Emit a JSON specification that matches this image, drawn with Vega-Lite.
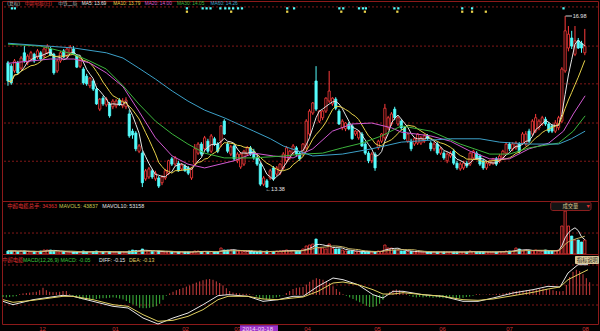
{
"$schema":"https://vega.github.io/schema/vega-lite/v6.json",
"background":"#000000",
"padding":0,
"spacing":0,
"bounds":"flush",
"config":{"view":{"stroke":"#8c1a1a","strokeWidth":1},"text":{"font":"Liberation Sans, Noto Sans CJK SC"}},
"datasets":{
"k":[
{"i":0,"o":16.00,"h":16.04,"l":15.52,"c":15.62,"v":34400,"m":-0.05},
{"i":1,"o":15.93,"h":15.98,"l":15.54,"c":15.58,"v":34400,"m":-0.06},
{"i":2,"o":15.83,"h":16.08,"l":15.79,"c":16.04,"v":34400,"m":-0.05},
{"i":3,"o":16.00,"h":16.04,"l":15.75,"c":15.79,"v":28600,"m":-0.04},
{"i":4,"o":15.89,"h":16.14,"l":15.85,"c":16.10,"v":34400,"m":-0.03},
{"i":5,"o":16.21,"h":16.35,"l":16.00,"c":16.04,"v":34400,"m":0.02},
{"i":6,"o":16.00,"h":16.18,"l":15.95,"c":16.14,"v":28600,"m":0.04},
{"i":7,"o":16.08,"h":16.25,"l":16.04,"c":16.21,"v":22900,"m":0.05},
{"i":8,"o":16.18,"h":16.21,"l":16.00,"c":16.04,"v":28600,"m":0.06},
{"i":9,"o":16.12,"h":16.29,"l":16.08,"c":16.25,"v":22900,"m":0.07},
{"i":10,"o":16.21,"h":16.25,"l":16.04,"c":16.08,"v":34400,"m":0.08},
{"i":11,"o":16.14,"h":16.33,"l":16.10,"c":16.29,"v":45800,"m":0.12},
{"i":12,"o":16.21,"h":16.39,"l":16.18,"c":16.35,"v":45800,"m":0.18},
{"i":13,"o":16.29,"h":16.33,"l":16.14,"c":16.16,"v":45800,"m":0.12},
{"i":14,"o":16.18,"h":16.21,"l":15.75,"c":15.79,"v":34400,"m":0.08},
{"i":15,"o":15.83,"h":16.08,"l":15.79,"c":16.04,"v":22900,"m":0.07},
{"i":16,"o":16.04,"h":16.25,"l":16.00,"c":16.21,"v":22900,"m":0.07},
{"i":17,"o":16.25,"h":16.29,"l":16.10,"c":16.12,"v":28600,"m":0.08},
{"i":18,"o":16.14,"h":16.33,"l":16.10,"c":16.29,"v":22900,"m":0.1},
{"i":19,"o":16.21,"h":16.37,"l":16.18,"c":16.33,"v":22900,"m":0.1},
{"i":20,"o":16.29,"h":16.35,"l":16.16,"c":16.18,"v":22900,"m":0.02},
{"i":21,"o":16.14,"h":16.18,"l":15.89,"c":15.91,"v":22900,"m":-0.03},
{"i":22,"o":15.93,"h":16.10,"l":15.89,"c":16.08,"v":22900,"m":-0.06},
{"i":23,"o":15.87,"h":15.91,"l":15.54,"c":15.58,"v":34400,"m":-0.09},
{"i":24,"o":15.72,"h":15.77,"l":15.52,"c":15.56,"v":22900,"m":-0.11},
{"i":25,"o":15.52,"h":15.70,"l":15.47,"c":15.68,"v":22900,"m":-0.12},
{"i":26,"o":15.62,"h":15.66,"l":15.41,"c":15.45,"v":28600,"m":-0.12},
{"i":27,"o":15.45,"h":15.50,"l":15.12,"c":15.14,"v":34400,"m":-0.12},
{"i":28,"o":15.03,"h":15.26,"l":14.99,"c":15.24,"v":22900,"m":-0.1},
{"i":29,"o":15.26,"h":15.31,"l":15.10,"c":15.14,"v":22900,"m":-0.09},
{"i":30,"o":15.12,"h":15.28,"l":15.08,"c":15.24,"v":22900,"m":-0.08},
{"i":31,"o":15.14,"h":15.18,"l":14.85,"c":14.89,"v":28600,"m":-0.08},
{"i":32,"o":15.08,"h":15.24,"l":15.03,"c":15.20,"v":22900,"m":-0.07},
{"i":33,"o":15.10,"h":15.24,"l":15.05,"c":15.20,"v":22900,"m":-0.06},
{"i":34,"o":15.22,"h":15.26,"l":15.10,"c":15.12,"v":22900,"m":-0.07},
{"i":35,"o":15.10,"h":15.26,"l":15.05,"c":15.20,"v":22900,"m":-0.09},
{"i":36,"o":15.08,"h":15.28,"l":15.03,"c":15.22,"v":22900,"m":-0.11},
{"i":37,"o":14.93,"h":15.01,"l":14.43,"c":14.47,"v":34400,"m":-0.15},
{"i":38,"o":14.57,"h":14.62,"l":14.41,"c":14.49,"v":45800,"m":-0.2},
{"i":39,"o":14.53,"h":14.57,"l":14.15,"c":14.20,"v":40100,"m":-0.24},
{"i":40,"o":14.15,"h":14.30,"l":14.11,"c":14.26,"v":34400,"m":-0.27},
{"i":41,"o":14.11,"h":14.15,"l":13.40,"c":13.49,"v":57300,"m":-0.32},
{"i":42,"o":13.57,"h":13.78,"l":13.53,"c":13.74,"v":34400,"m":-0.33},
{"i":43,"o":13.61,"h":13.82,"l":13.57,"c":13.78,"v":34400,"m":-0.33},
{"i":44,"o":13.74,"h":13.78,"l":13.57,"c":13.61,"v":28600,"m":-0.32},
{"i":45,"o":13.57,"h":13.74,"l":13.53,"c":13.69,"v":22900,"m":-0.3},
{"i":46,"o":13.59,"h":13.63,"l":13.38,"c":13.42,"v":34400,"m":-0.28},
{"i":47,"o":13.49,"h":13.65,"l":13.44,"c":13.61,"v":22900,"m":-0.22},
{"i":48,"o":13.59,"h":13.78,"l":13.55,"c":13.74,"v":22900,"m":-0.12},
{"i":49,"o":13.69,"h":13.97,"l":13.65,"c":13.95,"v":28600,"m":-0.02},
{"i":50,"o":13.99,"h":14.03,"l":13.84,"c":13.88,"v":22900,"m":0.04},
{"i":51,"o":13.88,"h":14.05,"l":13.84,"c":14.01,"v":22900,"m":0.08},
{"i":52,"o":13.90,"h":13.95,"l":13.72,"c":13.74,"v":22900,"m":0.12},
{"i":53,"o":13.78,"h":13.90,"l":13.74,"c":13.86,"v":22900,"m":0.15},
{"i":54,"o":13.84,"h":13.88,"l":13.72,"c":13.74,"v":22900,"m":0.18},
{"i":55,"o":13.80,"h":13.84,"l":13.65,"c":13.69,"v":22900,"m":0.21},
{"i":56,"o":13.59,"h":13.82,"l":13.55,"c":13.80,"v":22900,"m":0.24},
{"i":57,"o":13.88,"h":14.30,"l":13.84,"c":14.20,"v":34400,"m":0.28},
{"i":58,"o":14.11,"h":14.34,"l":14.07,"c":14.30,"v":34400,"m":0.31},
{"i":59,"o":14.30,"h":14.34,"l":14.05,"c":14.09,"v":28600,"m":0.34},
{"i":60,"o":14.20,"h":14.47,"l":14.15,"c":14.43,"v":28600,"m":0.37},
{"i":61,"o":14.36,"h":14.41,"l":14.11,"c":14.15,"v":22900,"m":0.39},
{"i":62,"o":14.15,"h":14.51,"l":14.11,"c":14.47,"v":28600,"m":0.4},
{"i":63,"o":14.41,"h":14.45,"l":14.26,"c":14.30,"v":22900,"m":0.38},
{"i":64,"o":14.30,"h":14.34,"l":14.11,"c":14.15,"v":22900,"m":0.34},
{"i":65,"o":14.36,"h":14.70,"l":14.24,"c":14.68,"v":68700,"m":0.3},
{"i":66,"o":14.78,"h":14.82,"l":14.49,"c":14.51,"v":45800,"m":0.24},
{"i":67,"o":14.30,"h":14.34,"l":14.11,"c":14.15,"v":45800,"m":0.17},
{"i":68,"o":14.09,"h":14.28,"l":14.05,"c":14.24,"v":45800,"m":0.1},
{"i":69,"o":14.26,"h":14.30,"l":13.95,"c":13.99,"v":40100,"m":0.06},
{"i":70,"o":13.95,"h":14.13,"l":13.90,"c":14.09,"v":34400,"m":0.05},
{"i":71,"o":13.82,"h":14.13,"l":13.78,"c":14.09,"v":34400,"m":0.04},
{"i":72,"o":13.88,"h":14.18,"l":13.84,"c":14.15,"v":28600,"m":0.03},
{"i":73,"o":14.09,"h":14.26,"l":14.05,"c":14.22,"v":28600,"m":0.03},
{"i":74,"o":14.22,"h":14.26,"l":14.05,"c":14.09,"v":28600,"m":0.02},
{"i":75,"o":14.15,"h":14.20,"l":13.97,"c":14.01,"v":22900,"m":0.01},
{"i":76,"o":14.01,"h":14.05,"l":13.84,"c":13.88,"v":22900,"m":-0.04},
{"i":77,"o":13.88,"h":13.92,"l":13.42,"c":13.46,"v":34400,"m":-0.08},
{"i":78,"o":13.46,"h":13.63,"l":13.42,"c":13.59,"v":22900,"m":-0.1},
{"i":79,"o":13.53,"h":13.57,"l":13.38,"c":13.40,"v":34363,"m":-0.11},
{"i":80,"o":13.59,"h":13.78,"l":13.55,"c":13.74,"v":28600,"m":-0.1},
{"i":81,"o":13.80,"h":13.84,"l":13.53,"c":13.57,"v":28600,"m":-0.08},
{"i":82,"o":13.67,"h":13.84,"l":13.63,"c":13.80,"v":34400,"m":-0.06},
{"i":83,"o":13.69,"h":13.90,"l":13.65,"c":13.88,"v":34400,"m":-0.04},
{"i":84,"o":13.80,"h":14.13,"l":13.76,"c":14.09,"v":40100,"m":-0.01},
{"i":85,"o":13.95,"h":14.26,"l":13.90,"c":14.22,"v":45800,"m":0.05},
{"i":86,"o":14.01,"h":14.18,"l":13.97,"c":14.15,"v":34400,"m":0.1},
{"i":87,"o":14.11,"h":14.30,"l":14.07,"c":14.26,"v":40100,"m":0.15},
{"i":88,"o":14.22,"h":14.26,"l":14.05,"c":14.09,"v":34400,"m":0.18},
{"i":89,"o":14.11,"h":14.15,"l":13.95,"c":13.99,"v":34400,"m":0.19},
{"i":90,"o":14.09,"h":14.32,"l":14.05,"c":14.30,"v":57300,"m":0.2},
{"i":91,"o":14.22,"h":14.82,"l":14.18,"c":14.78,"v":91600,"m":0.26},
{"i":92,"o":14.51,"h":15.03,"l":14.47,"c":14.99,"v":103100,"m":0.33},
{"i":93,"o":14.95,"h":15.18,"l":14.91,"c":15.16,"v":114500,"m":0.38},
{"i":94,"o":15.62,"h":15.93,"l":14.99,"c":15.03,"v":171800,"m":0.42},
{"i":95,"o":14.78,"h":15.01,"l":14.74,"c":14.99,"v":68700,"m":0.4},
{"i":96,"o":14.85,"h":15.01,"l":14.80,"c":14.99,"v":68700,"m":0.38},
{"i":97,"o":14.99,"h":15.28,"l":14.95,"c":15.26,"v":57300,"m":0.35},
{"i":98,"o":15.20,"h":15.83,"l":15.16,"c":15.41,"v":114500,"m":0.3},
{"i":99,"o":15.14,"h":15.28,"l":15.10,"c":15.26,"v":68700,"m":0.22},
{"i":100,"o":15.24,"h":15.28,"l":15.01,"c":15.05,"v":57300,"m":0.15},
{"i":101,"o":14.99,"h":15.03,"l":14.70,"c":14.72,"v":57300,"m":0.08},
{"i":102,"o":14.64,"h":14.82,"l":14.59,"c":14.78,"v":45800,"m":0.02},
{"i":103,"o":14.62,"h":14.76,"l":14.57,"c":14.74,"v":34400,"m":-0.02},
{"i":104,"o":14.72,"h":14.76,"l":14.59,"c":14.62,"v":34400,"m":-0.06},
{"i":105,"o":14.68,"h":14.72,"l":14.39,"c":14.41,"v":34400,"m":-0.1},
{"i":106,"o":14.51,"h":14.59,"l":14.47,"c":14.57,"v":28600,"m":-0.14},
{"i":107,"o":14.43,"h":14.59,"l":14.39,"c":14.57,"v":28600,"m":-0.18},
{"i":108,"o":14.51,"h":14.55,"l":14.24,"c":14.26,"v":22900,"m":-0.22},
{"i":109,"o":14.30,"h":14.34,"l":14.07,"c":14.11,"v":22900,"m":-0.27},
{"i":110,"o":14.11,"h":14.15,"l":13.90,"c":13.95,"v":28600,"m":-0.3},
{"i":111,"o":13.95,"h":14.13,"l":13.90,"c":14.09,"v":22900,"m":-0.3},
{"i":112,"o":14.09,"h":14.13,"l":13.74,"c":13.80,"v":28600,"m":-0.28},
{"i":113,"o":14.22,"h":14.39,"l":14.18,"c":14.36,"v":34400,"m":-0.22},
{"i":114,"o":14.36,"h":14.53,"l":14.32,"c":14.51,"v":34400,"m":-0.12},
{"i":115,"o":14.43,"h":15.14,"l":14.39,"c":15.05,"v":103100,"m":0.02},
{"i":116,"o":14.64,"h":14.89,"l":14.59,"c":14.85,"v":68700,"m":0.08},
{"i":117,"o":14.72,"h":14.97,"l":14.68,"c":14.93,"v":68700,"m":0.12},
{"i":118,"o":15.03,"h":15.08,"l":14.80,"c":14.85,"v":45800,"m":0.14},
{"i":119,"o":14.72,"h":14.89,"l":14.68,"c":14.85,"v":45800,"m":0.12},
{"i":120,"o":14.78,"h":14.82,"l":14.59,"c":14.64,"v":34400,"m":0.08},
{"i":121,"o":14.64,"h":14.68,"l":14.39,"c":14.41,"v":34400,"m":0.03},
{"i":122,"o":14.36,"h":14.53,"l":14.32,"c":14.51,"v":28600,"m":-0.02},
{"i":123,"o":14.36,"h":14.41,"l":14.15,"c":14.20,"v":28600,"m":-0.05},
{"i":124,"o":14.30,"h":14.45,"l":14.26,"c":14.41,"v":22900,"m":-0.06},
{"i":125,"o":14.32,"h":14.53,"l":14.28,"c":14.51,"v":22900,"m":-0.05},
{"i":126,"o":14.32,"h":14.47,"l":14.28,"c":14.43,"v":22900,"m":-0.06},
{"i":127,"o":14.36,"h":14.51,"l":14.32,"c":14.47,"v":22900,"m":-0.05},
{"i":128,"o":14.47,"h":14.51,"l":14.39,"c":14.41,"v":22900,"m":-0.06},
{"i":129,"o":14.32,"h":14.36,"l":14.15,"c":14.20,"v":22900,"m":-0.07},
{"i":130,"o":14.20,"h":14.34,"l":14.15,"c":14.30,"v":22900,"m":-0.06},
{"i":131,"o":14.30,"h":14.34,"l":14.07,"c":14.11,"v":22900,"m":-0.07},
{"i":132,"o":14.11,"h":14.24,"l":14.07,"c":14.20,"v":22900,"m":-0.08},
{"i":133,"o":14.11,"h":14.15,"l":13.97,"c":14.01,"v":22900,"m":-0.08},
{"i":134,"o":13.95,"h":14.13,"l":13.90,"c":14.09,"v":22900,"m":-0.07},
{"i":135,"o":14.05,"h":14.15,"l":14.01,"c":14.11,"v":22900,"m":-0.07},
{"i":136,"o":14.15,"h":14.20,"l":13.86,"c":13.90,"v":22900,"m":-0.08},
{"i":137,"o":13.90,"h":13.95,"l":13.76,"c":13.80,"v":22900,"m":-0.08},
{"i":138,"o":13.78,"h":13.92,"l":13.74,"c":13.88,"v":22900,"m":-0.07},
{"i":139,"o":13.80,"h":13.95,"l":13.76,"c":13.90,"v":22900,"m":-0.05},
{"i":140,"o":13.90,"h":13.95,"l":13.80,"c":13.84,"v":22900,"m":-0.04},
{"i":141,"o":13.88,"h":14.13,"l":13.84,"c":14.11,"v":34400,"m":-0.02},
{"i":142,"o":14.01,"h":14.18,"l":13.97,"c":14.15,"v":28600,"m":0.02},
{"i":143,"o":14.11,"h":14.15,"l":13.97,"c":14.01,"v":22900,"m":0.02},
{"i":144,"o":14.05,"h":14.09,"l":13.84,"c":13.88,"v":22900,"m":0.01},
{"i":145,"o":13.95,"h":13.99,"l":13.76,"c":13.80,"v":22900,"m":0.01},
{"i":146,"o":13.80,"h":13.95,"l":13.76,"c":13.90,"v":22900,"m":0.02},
{"i":147,"o":13.88,"h":13.97,"l":13.84,"c":13.95,"v":22900,"m":0.02},
{"i":148,"o":13.90,"h":14.01,"l":13.86,"c":13.99,"v":22900,"m":0.03},
{"i":149,"o":13.99,"h":14.03,"l":13.84,"c":13.88,"v":22900,"m":0.03},
{"i":150,"o":13.95,"h":14.09,"l":13.90,"c":14.05,"v":28600,"m":0.04},
{"i":151,"o":14.01,"h":14.18,"l":13.97,"c":14.15,"v":28600,"m":0.05},
{"i":152,"o":14.11,"h":14.34,"l":14.07,"c":14.30,"v":34400,"m":0.07},
{"i":153,"o":14.30,"h":14.34,"l":14.15,"c":14.20,"v":34400,"m":0.09},
{"i":154,"o":14.20,"h":14.34,"l":14.15,"c":14.30,"v":34400,"m":0.1},
{"i":155,"o":14.22,"h":14.36,"l":14.18,"c":14.32,"v":68700,"m":0.11},
{"i":156,"o":14.30,"h":14.34,"l":14.11,"c":14.15,"v":57300,"m":0.11},
{"i":157,"o":14.32,"h":14.55,"l":14.28,"c":14.51,"v":34400,"m":0.12},
{"i":158,"o":14.30,"h":14.57,"l":14.26,"c":14.51,"v":45800,"m":0.13},
{"i":159,"o":14.57,"h":14.62,"l":14.32,"c":14.36,"v":34400,"m":0.13},
{"i":160,"o":14.51,"h":14.82,"l":14.47,"c":14.78,"v":34400,"m":0.14},
{"i":161,"o":14.57,"h":14.93,"l":14.53,"c":14.85,"v":45800,"m":0.16},
{"i":162,"o":14.64,"h":14.82,"l":14.59,"c":14.78,"v":34400,"m":0.16},
{"i":163,"o":14.72,"h":14.89,"l":14.68,"c":14.85,"v":34400,"m":0.15},
{"i":164,"o":14.82,"h":14.87,"l":14.68,"c":14.72,"v":45800,"m":0.14},
{"i":165,"o":14.72,"h":14.76,"l":14.53,"c":14.57,"v":34400,"m":0.12},
{"i":166,"o":14.68,"h":14.72,"l":14.53,"c":14.57,"v":34400,"m":0.1},
{"i":167,"o":14.57,"h":14.80,"l":14.53,"c":14.74,"v":34400,"m":0.09},
{"i":168,"o":14.64,"h":14.89,"l":14.59,"c":14.85,"v":45800,"m":0.1},
{"i":169,"o":14.78,"h":15.91,"l":14.74,"c":15.87,"v":320600,"m":0.25},
{"i":170,"o":15.83,"h":16.98,"l":15.79,"c":16.67,"v":492400,"m":0.45},
{"i":171,"o":16.31,"h":16.77,"l":16.24,"c":16.60,"v":320600,"m":0.58},
{"i":172,"o":16.52,"h":16.67,"l":16.29,"c":16.35,"v":206100,"m":0.63},
{"i":173,"o":16.18,"h":16.77,"l":16.14,"c":16.46,"v":160300,"m":0.6},
{"i":174,"o":16.46,"h":16.52,"l":16.29,"c":16.31,"v":160300,"m":0.52},
{"i":175,"o":16.41,"h":16.46,"l":16.21,"c":16.31,"v":137400,"m":0.42},
{"i":176,"o":16.21,"h":16.71,"l":16.16,"c":16.35,"v":160300,"m":0.32}
],
"ma":[
{"s":"MA20","i":0,"p":15.99},{"s":"MA20","i":12.9,"p":16.08},{"s":"MA20","i":20.1,"p":16.08},{"s":"MA20","i":24.9,"p":16.00},{"s":"MA20","i":30,"p":15.79},{"s":"MA20","i":35.1,"p":15.50},{"s":"MA20","i":39.9,"p":14.99},{"s":"MA20","i":45,"p":14.43},{"s":"MA20","i":50.1,"p":14.05},{"s":"MA20","i":54.9,"p":13.88},{"s":"MA20","i":60,"p":13.80},{"s":"MA20","i":69,"p":13.95},{"s":"MA20","i":75,"p":14.11},{"s":"MA20","i":81,"p":14.05},{"s":"MA20","i":87,"p":14.01},{"s":"MA20","i":93,"p":14.20},{"s":"MA20","i":99,"p":14.57},{"s":"MA20","i":105,"p":14.72},{"s":"MA20","i":111,"p":14.74},{"s":"MA20","i":117,"p":14.64},{"s":"MA20","i":120,"p":14.55},{"s":"MA20","i":129,"p":14.47},{"s":"MA20","i":135,"p":14.36},{"s":"MA20","i":141,"p":14.15},{"s":"MA20","i":147,"p":13.99},{"s":"MA20","i":153,"p":13.99},{"s":"MA20","i":159,"p":14.20},{"s":"MA20","i":165,"p":14.32},{"s":"MA20","i":169.5,"p":14.57},{"s":"MA20","i":172.5,"p":14.93},{"s":"MA20","i":176.1,"p":15.31},
{"s":"MA30","i":0,"p":16.39},{"s":"MA30","i":9.9,"p":16.35},{"s":"MA30","i":20.1,"p":16.18},{"s":"MA30","i":24.9,"p":16.04},{"s":"MA30","i":30,"p":15.87},{"s":"MA30","i":35.1,"p":15.52},{"s":"MA30","i":39.9,"p":15.14},{"s":"MA30","i":45,"p":14.78},{"s":"MA30","i":50.1,"p":14.51},{"s":"MA30","i":54.9,"p":14.30},{"s":"MA30","i":60,"p":14.11},{"s":"MA30","i":66,"p":14.01},{"s":"MA30","i":75,"p":14.01},{"s":"MA30","i":84,"p":14.05},{"s":"MA30","i":90,"p":14.09},{"s":"MA30","i":96,"p":14.11},{"s":"MA30","i":102,"p":14.22},{"s":"MA30","i":108,"p":14.32},{"s":"MA30","i":114,"p":14.47},{"s":"MA30","i":120,"p":14.68},{"s":"MA30","i":129,"p":14.57},{"s":"MA30","i":138,"p":14.30},{"s":"MA30","i":147,"p":14.09},{"s":"MA30","i":153,"p":14.09},{"s":"MA30","i":159,"p":14.22},{"s":"MA30","i":168,"p":14.32},{"s":"MA30","i":172.5,"p":14.57},{"s":"MA30","i":176.1,"p":14.89},
{"s":"MA60","i":0,"p":16.41},{"s":"MA60","i":20.1,"p":16.31},{"s":"MA60","i":30,"p":16.21},{"s":"MA60","i":35.1,"p":16.10},{"s":"MA60","i":39.9,"p":15.89},{"s":"MA60","i":45,"p":15.66},{"s":"MA60","i":50.1,"p":15.41},{"s":"MA60","i":54.9,"p":15.20},{"s":"MA60","i":60,"p":15.01},{"s":"MA60","i":66,"p":14.85},{"s":"MA60","i":75,"p":14.57},{"s":"MA60","i":80.1,"p":14.41},{"s":"MA60","i":84,"p":14.26},{"s":"MA60","i":93,"p":14.05},{"s":"MA60","i":102,"p":14.09},{"s":"MA60","i":111,"p":14.20},{"s":"MA60","i":120,"p":14.34},{"s":"MA60","i":135,"p":14.41},{"s":"MA60","i":144,"p":14.41},{"s":"MA60","i":150,"p":14.34},{"s":"MA60","i":159,"p":14.30},{"s":"MA60","i":168,"p":14.30},{"s":"MA60","i":171.9,"p":14.41},{"s":"MA60","i":176.1,"p":14.57}
],
"md":[
{"s":"DIFF","i":0,"v":-0.158},{"s":"DIFF","i":3,"v":-0.242},{"s":"DIFF","i":9,"v":-0.117},{"s":"DIFF","i":18,"v":-0.008},{"s":"DIFF","i":21,"v":-0.033},{"s":"DIFF","i":27,"v":-0.158},{"s":"DIFF","i":33,"v":-0.283},{"s":"DIFF","i":37.5,"v":-0.325},{"s":"DIFF","i":42,"v":-0.575},{"s":"DIFF","i":46.5,"v":-0.725},{"s":"DIFF","i":51,"v":-0.575},{"s":"DIFF","i":55.5,"v":-0.45},{"s":"DIFF","i":60,"v":-0.242},{"s":"DIFF","i":64.5,"v":-0.017},{"s":"DIFF","i":67.5,"v":0.008},{"s":"DIFF","i":73.5,"v":-0.033},{"s":"DIFF","i":78,"v":-0.158},{"s":"DIFF","i":82.5,"v":-0.117},{"s":"DIFF","i":87,"v":-0.033},{"s":"DIFF","i":90,"v":-0.033},{"s":"DIFF","i":94.5,"v":0.217},{"s":"DIFF","i":99,"v":0.425},{"s":"DIFF","i":102,"v":0.383},{"s":"DIFF","i":106.5,"v":0.258},{"s":"DIFF","i":111,"v":0.008},{"s":"DIFF","i":114,"v":-0.075},{"s":"DIFF","i":117,"v":0.092},{"s":"DIFF","i":120,"v":0.092},{"s":"DIFF","i":126,"v":0.008},{"s":"DIFF","i":132,"v":-0.033},{"s":"DIFF","i":138,"v":-0.158},{"s":"DIFF","i":142.5,"v":-0.158},{"s":"DIFF","i":147,"v":-0.075},{"s":"DIFF","i":153,"v":0.05},{"s":"DIFF","i":159,"v":0.133},{"s":"DIFF","i":163.5,"v":0.217},{"s":"DIFF","i":167.1,"v":0.2},{"s":"DIFF","i":169.5,"v":0.55},{"s":"DIFF","i":172.5,"v":0.758},{"s":"DIFF","i":175.5,"v":0.758},
{"s":"DEA","i":0,"v":-0.117},{"s":"DEA","i":3,"v":-0.183},{"s":"DEA","i":9,"v":-0.133},{"s":"DEA","i":18,"v":-0.033},{"s":"DEA","i":21,"v":-0.033},{"s":"DEA","i":27,"v":-0.117},{"s":"DEA","i":33,"v":-0.242},{"s":"DEA","i":37.5,"v":-0.283},{"s":"DEA","i":42,"v":-0.492},{"s":"DEA","i":46.5,"v":-0.658},{"s":"DEA","i":51,"v":-0.633},{"s":"DEA","i":55.5,"v":-0.533},{"s":"DEA","i":60,"v":-0.367},{"s":"DEA","i":64.5,"v":-0.117},{"s":"DEA","i":67.5,"v":-0.033},{"s":"DEA","i":73.5,"v":-0.033},{"s":"DEA","i":78,"v":-0.1},{"s":"DEA","i":82.5,"v":-0.117},{"s":"DEA","i":87,"v":-0.075},{"s":"DEA","i":90,"v":-0.05},{"s":"DEA","i":94.5,"v":0.092},{"s":"DEA","i":99,"v":0.3},{"s":"DEA","i":102,"v":0.325},{"s":"DEA","i":106.5,"v":0.258},{"s":"DEA","i":111,"v":0.133},{"s":"DEA","i":114,"v":0.025},{"s":"DEA","i":117,"v":0.025},{"s":"DEA","i":120,"v":0.058},{"s":"DEA","i":126,"v":0.008},{"s":"DEA","i":132,"v":-0.033},{"s":"DEA","i":138,"v":-0.117},{"s":"DEA","i":142.5,"v":-0.133},{"s":"DEA","i":147,"v":-0.1},{"s":"DEA","i":153,"v":-0.017},{"s":"DEA","i":159,"v":0.067},{"s":"DEA","i":163.5,"v":0.15},{"s":"DEA","i":167.1,"v":0.2},{"s":"DEA","i":169.5,"v":0.383},{"s":"DEA","i":172.5,"v":0.508},{"s":"DEA","i":175.5,"v":0.633}
],
"g":[
{"g":"a","p":17.17},{"g":"a","p":16.35},{"g":"a","p":15.56},{"g":"a","p":14.74},{"g":"a","p":13.94},
{"g":"b","p":240000},
{"g":"c","p":0.75},{"g":"c","p":0.25},{"g":"c","p":-0.25}
],
"sig":[
{"i":1.2,"p":17.14,"t":"c"},{"i":2.1,"p":17.14,"t":"c"},{"i":54.6,"p":17.14,"t":"c"},{"i":59.4,"p":17.14,"t":"c"},{"i":60.6,"p":17.14,"t":"c"},{"i":61.8,"p":17.14,"t":"c"},{"i":64.8,"p":17.14,"t":"c"},{"i":66.3,"p":17.14,"t":"c"},{"i":67.5,"p":17.14,"t":"c"},{"i":68.7,"p":17.14,"t":"c"},{"i":70.2,"p":17.14,"t":"c"},{"i":71.4,"p":17.14,"t":"c"},{"i":85.2,"p":17.14,"t":"c"},{"i":87.3,"p":17.14,"t":"c"},{"i":101.1,"p":17.14,"t":"c"},{"i":102.3,"p":17.14,"t":"c"},{"i":107.1,"p":17.14,"t":"c"},{"i":108.3,"p":17.14,"t":"c"},{"i":109.2,"p":17.14,"t":"c"},{"i":117.9,"p":17.14,"t":"c"},{"i":119.1,"p":17.14,"t":"c"},{"i":138.6,"p":17.14,"t":"c"},{"i":141.6,"p":17.14,"t":"c"},{"i":169.5,"p":17.14,"t":"c"},
{"i":54.6,"p":17.07,"t":"y"},{"i":68.1,"p":17.07,"t":"y"},{"i":85.2,"p":17.07,"t":"y"},{"i":101.7,"p":17.07,"t":"y"},{"i":108.9,"p":17.07,"t":"y"},{"i":118.8,"p":17.07,"t":"y"},{"i":138.6,"p":17.07,"t":"y"},{"i":141.6,"p":17.07,"t":"y"},{"i":145.8,"p":17.07,"t":"y"}
],
"ldr":[{"i":170.1,"i2":172.1,"p":16.98}],
"box":[
{"g":"b","i":165.6,"i2":177.9,"p":595400,"p2":498000},
{"g":"c1","i":171.6,"i2":178.8,"p":0.975,"p2":0.775},
{"g":"c2","i":71.1,"i2":82.5,"p":-0.755,"p2":-0.95}
],
"lab":[
{"g":"a","t":"(复权)","i":-0.2,"p":17.23,"s":"gr"},
{"g":"a","t":"中超电缆(日)","i":5.1,"p":17.23,"s":"nm"},
{"g":"a","t":"中铁二局","i":15.3,"p":17.23,"s":"gr"},
{"g":"a","t":"MA5: 13.69","i":22.5,"p":17.23,"s":"MA5"},
{"g":"a","t":"MA10: 13.79","i":32.1,"p":17.23,"s":"MA10"},
{"g":"a","t":"MA20: 14.00","i":41.7,"p":17.23,"s":"MA20"},
{"g":"a","t":"MA30: 14.05","i":51.6,"p":17.23,"s":"MA30"},
{"g":"a","t":"MA60: 14.26","i":61.8,"p":17.23,"s":"MA60"},
{"g":"a2","t":"16.98","i":172.3,"p":16.98,"s":"wh"},
{"g":"a2","t":"←13.38","i":78.6,"p":13.35,"s":"wh"},
{"g":"b","t":"中超电缆","i":-0.2,"p":549600,"s":"nm"},
{"g":"b","t":"总手: 34363","i":6.3,"p":549600,"s":"nm"},
{"g":"b","t":"MAVOL5: 43837","i":15.6,"p":549600,"s":"ol"},
{"g":"b","t":"MAVOL10: 53158","i":28.8,"p":549600,"s":"wh"},
{"g":"b","t":"成交量","i":169.2,"p":546700,"s":"be"},
{"g":"b","t":"▼","i":176.2,"p":546700,"s":"nm"},
{"g":"c","t":"中超电缆","i":-0.2,"p":0.875,"s":"nm"},
{"g":"c","t":"MACD(12,26,9) MACD: -0.05","i":6.0,"p":0.875,"s":"gn"},
{"g":"c","t":"DIFF: -0.15","i":28.8,"p":0.875,"s":"wh"},
{"g":"c","t":"DEA: -0.13","i":37.8,"p":0.875,"s":"ye"},
{"g":"c","t":"指标说明","i":172.2,"p":0.875,"s":"dk"},
{"g":"d","t":"2014-03-18","i":71.8,"p":-0.855,"s":"pk"}
]
},
"vconcat":[
{"width":596,"height":200,"layer":[
{"data":{"name":"g"},"transform":[{"filter":"datum.g=='a'"}],"mark":{"type":"rule","color":"#801818","strokeDash":[2,2],"strokeWidth":1},"encoding":{"y":{"field":"p","type":"quantitative","scale":{"domain":[13.108,17.294],"nice":false,"zero":false},"axis":null}}},
{"data":{"name":"k"},"mark":{"type":"rule","strokeWidth":1},"encoding":{"x":{"field":"i","type":"quantitative","scale":{"domain":[-0.3,178.5],"nice":false,"zero":false},"axis":null},"y":{"field":"l","type":"quantitative","scale":{"domain":[13.108,17.294],"nice":false,"zero":false},"axis":null},"y2":{"field":"h"},"color":{"condition":{"test":"datum.c>=datum.o","value":"#ff3c3c"},"value":"#54fcfc"}}},
{"data":{"name":"k"},"mark":{"type":"bar","width":2.2,"strokeWidth":0.8},"encoding":{"x":{"field":"i","type":"quantitative","scale":{"domain":[-0.3,178.5],"nice":false,"zero":false},"axis":null},"y":{"field":"o","type":"quantitative","scale":{"domain":[13.108,17.294],"nice":false,"zero":false},"axis":null},"y2":{"field":"c"},"fill":{"condition":{"test":"datum.c>=datum.o","value":"#000000"},"value":"#54fcfc"},"stroke":{"condition":{"test":"datum.c>=datum.o","value":"#ff3c3c"},"value":"#54fcfc"}}},
{"data":{"name":"k"},"transform":[{"window":[{"op":"mean","field":"c","as":"m5"}],"frame":[-4,0],"sort":[{"field":"i"}]}],"mark":{"type":"line","color":"#e6e6e6","strokeWidth":1},"encoding":{"x":{"field":"i","type":"quantitative","scale":{"domain":[-0.3,178.5],"nice":false,"zero":false},"axis":null},"y":{"field":"m5","type":"quantitative","scale":{"domain":[13.108,17.294],"nice":false,"zero":false},"axis":null}}},
{"data":{"name":"k"},"transform":[{"window":[{"op":"mean","field":"c","as":"m10"}],"frame":[-9,0],"sort":[{"field":"i"}]}],"mark":{"type":"line","color":"#e8d24a","strokeWidth":1},"encoding":{"x":{"field":"i","type":"quantitative","scale":{"domain":[-0.3,178.5],"nice":false,"zero":false},"axis":null},"y":{"field":"m10","type":"quantitative","scale":{"domain":[13.108,17.294],"nice":false,"zero":false},"axis":null}}},
{"data":{"name":"ma"},"transform":[{"filter":"datum.s=='MA20'"}],"mark":{"type":"line","color":"#d25ad2","strokeWidth":1},"encoding":{"x":{"field":"i","type":"quantitative","scale":{"domain":[-0.3,178.5],"nice":false,"zero":false},"axis":null},"y":{"field":"p","type":"quantitative","scale":{"domain":[13.108,17.294],"nice":false,"zero":false},"axis":null}}},
{"data":{"name":"ma"},"transform":[{"filter":"datum.s=='MA30'"}],"mark":{"type":"line","color":"#3cb43c","strokeWidth":1},"encoding":{"x":{"field":"i","type":"quantitative","scale":{"domain":[-0.3,178.5],"nice":false,"zero":false},"axis":null},"y":{"field":"p","type":"quantitative","scale":{"domain":[13.108,17.294],"nice":false,"zero":false},"axis":null}}},
{"data":{"name":"ma"},"transform":[{"filter":"datum.s=='MA60'"}],"mark":{"type":"line","color":"#3ca0c8","strokeWidth":1},"encoding":{"x":{"field":"i","type":"quantitative","scale":{"domain":[-0.3,178.5],"nice":false,"zero":false},"axis":null},"y":{"field":"p","type":"quantitative","scale":{"domain":[13.108,17.294],"nice":false,"zero":false},"axis":null}}},
{"data":{"name":"sig"},"mark":{"type":"square","size":5,"filled":true,"opacity":1},"encoding":{"x":{"field":"i","type":"quantitative","scale":{"domain":[-0.3,178.5],"nice":false,"zero":false},"axis":null},"y":{"field":"p","type":"quantitative","scale":{"domain":[13.108,17.294],"nice":false,"zero":false},"axis":null},"color":{"condition":{"test":"datum.t=='c'","value":"#54fcfc"},"value":"#e8d24a"}}},
{"data":{"name":"ldr"},"mark":{"type":"rule","color":"#d0d0d0","strokeWidth":1},"encoding":{"x":{"field":"i","type":"quantitative","scale":{"domain":[-0.3,178.5],"nice":false,"zero":false},"axis":null},"x2":{"field":"i2"},"y":{"field":"p","type":"quantitative","scale":{"domain":[13.108,17.294],"nice":false,"zero":false},"axis":null}}},
{"data":{"name":"lab"},"transform":[{"filter":"datum.g=='a'"}],"mark":{"type":"text","align":"left","baseline":"middle","fontSize":4.8},"encoding":{"x":{"field":"i","type":"quantitative","scale":{"domain":[-0.3,178.5],"nice":false,"zero":false},"axis":null},"y":{"field":"p","type":"quantitative","scale":{"domain":[13.108,17.294],"nice":false,"zero":false},"axis":null},"text":{"field":"t"},"color":{"field":"s","type":"nominal","legend":null,"scale":{"domain":["gr","nm","MA5","MA10","MA20","MA30","MA60","wh","gn","ye","be","dk","pk","ol"],"range":["#b4b4b4","#e03232","#e6e6e6","#e8d24a","#d25ad2","#3cb43c","#3ca0c8","#e6e6e6","#3cc83c","#e0d060","#d8c890","#1a1a1a","#f4dcf4","#c8c850"]}}}},
{"data":{"name":"lab"},"transform":[{"filter":"datum.g=='a2'"}],"mark":{"type":"text","align":"left","baseline":"middle","fontSize":5.5},"encoding":{"x":{"field":"i","type":"quantitative","scale":{"domain":[-0.3,178.5],"nice":false,"zero":false},"axis":null},"y":{"field":"p","type":"quantitative","scale":{"domain":[13.108,17.294],"nice":false,"zero":false},"axis":null},"text":{"field":"t"},"color":{"field":"s","type":"nominal","legend":null,"scale":{"domain":["gr","nm","MA5","MA10","MA20","MA30","MA60","wh","gn","ye","be","dk","pk","ol"],"range":["#b4b4b4","#e03232","#e6e6e6","#e8d24a","#d25ad2","#3cb43c","#3ca0c8","#e6e6e6","#3cc83c","#e0d060","#d8c890","#1a1a1a","#f4dcf4","#c8c850"]}}}}
]},
{"width":596,"height":53,"layer":[
{"data":{"name":"g"},"transform":[{"filter":"datum.g=='b'"}],"mark":{"type":"rule","color":"#801818","strokeDash":[2,2],"strokeWidth":1},"encoding":{"y":{"field":"p","type":"quantitative","scale":{"domain":[0,607000],"nice":false,"zero":false},"axis":null}}},
{"data":{"name":"k"},"mark":{"type":"bar","width":2.2,"strokeWidth":0.8},"encoding":{"x":{"field":"i","type":"quantitative","scale":{"domain":[-0.3,178.5],"nice":false,"zero":false},"axis":null},"y":{"field":"v","type":"quantitative","scale":{"domain":[0,607000],"nice":false,"zero":false},"axis":null},"y2":{"datum":0},"fill":{"condition":{"test":"datum.c>=datum.o","value":"#000000"},"value":"#54fcfc"},"stroke":{"condition":{"test":"datum.c>=datum.o","value":"#ff3c3c"},"value":"#54fcfc"}}},
{"data":{"name":"k"},"transform":[{"window":[{"op":"mean","field":"v","as":"mv5"}],"frame":[-4,0],"sort":[{"field":"i"}]}],"mark":{"type":"line","color":"#e6e6e6","strokeWidth":1},"encoding":{"x":{"field":"i","type":"quantitative","scale":{"domain":[-0.3,178.5],"nice":false,"zero":false},"axis":null},"y":{"field":"mv5","type":"quantitative","scale":{"domain":[0,607000],"nice":false,"zero":false},"axis":null}}},
{"data":{"name":"k"},"transform":[{"window":[{"op":"mean","field":"v","as":"mv10"}],"frame":[-9,0],"sort":[{"field":"i"}]}],"mark":{"type":"line","color":"#c8b464","strokeWidth":1},"encoding":{"x":{"field":"i","type":"quantitative","scale":{"domain":[-0.3,178.5],"nice":false,"zero":false},"axis":null},"y":{"field":"mv10","type":"quantitative","scale":{"domain":[0,607000],"nice":false,"zero":false},"axis":null}}},
{"data":{"name":"box"},"transform":[{"filter":"datum.g=='b'"}],"mark":{"type":"rect","fill":"#141414","stroke":"#8c2020","strokeWidth":1,"cornerRadius":2},"encoding":{"x":{"field":"i","type":"quantitative","scale":{"domain":[-0.3,178.5],"nice":false,"zero":false},"axis":null},"x2":{"field":"i2"},"y":{"field":"p","type":"quantitative","scale":{"domain":[0,607000],"nice":false,"zero":false},"axis":null},"y2":{"field":"p2"}}},
{"data":{"name":"lab"},"transform":[{"filter":"datum.g=='b'"}],"mark":{"type":"text","align":"left","baseline":"middle","fontSize":5.3},"encoding":{"x":{"field":"i","type":"quantitative","scale":{"domain":[-0.3,178.5],"nice":false,"zero":false},"axis":null},"y":{"field":"p","type":"quantitative","scale":{"domain":[0,607000],"nice":false,"zero":false},"axis":null},"text":{"field":"t"},"color":{"field":"s","type":"nominal","legend":null,"scale":{"domain":["gr","nm","MA5","MA10","MA20","MA30","MA60","wh","gn","ye","be","dk","pk","ol"],"range":["#b4b4b4","#e03232","#e6e6e6","#e8d24a","#d25ad2","#3cb43c","#3ca0c8","#e6e6e6","#3cc83c","#e0d060","#d8c890","#1a1a1a","#f4dcf4","#c8c850"]}}}}
]},
{"width":596,"height":70,"layer":[
{"data":{"name":"g"},"transform":[{"filter":"datum.g=='c'"}],"mark":{"type":"rule","color":"#801818","strokeDash":[2,2],"strokeWidth":1},"encoding":{"y":{"field":"p","type":"quantitative","scale":{"domain":[-0.725,1.025],"nice":false,"zero":false},"axis":null}}},
{"data":{"name":"k"},"mark":{"type":"rule","strokeWidth":1},"encoding":{"x":{"field":"i","type":"quantitative","scale":{"domain":[-0.3,178.5],"nice":false,"zero":false},"axis":{"values":[11.7,33.6,54.6,70.2,91.2,112.2,131.7,151.8,174.6],"labelExpr":"datum.value<20?'12':datum.value<40?'01':datum.value<60?'02':datum.value<80?'03':datum.value<100?'04':datum.value<120?'05':datum.value<140?'06':datum.value<160?'07':'08'","title":null,"grid":false,"domain":false,"ticks":false,"labelPadding":1.5,"labelFontSize":6,"labelColor":"#c83232","labelFont":"Liberation Sans","labelFlush":false,"labelOverlap":false,"labelBound":false}},"y":{"field":"m","type":"quantitative","scale":{"domain":[-0.725,1.025],"nice":false,"zero":false},"axis":null},"y2":{"datum":0},"color":{"condition":{"test":"datum.m>=0","value":"#c83c3c"},"value":"#3cb43c"}}},
{"data":{"name":"md"},"transform":[{"filter":"datum.s=='DIFF'"}],"mark":{"type":"line","color":"#e6e6e6","strokeWidth":1},"encoding":{"x":{"field":"i","type":"quantitative","scale":{"domain":[-0.3,178.5],"nice":false,"zero":false},"axis":{"values":[11.7,33.6,54.6,70.2,91.2,112.2,131.7,151.8,174.6],"labelExpr":"datum.value<20?'12':datum.value<40?'01':datum.value<60?'02':datum.value<80?'03':datum.value<100?'04':datum.value<120?'05':datum.value<140?'06':datum.value<160?'07':'08'","title":null,"grid":false,"domain":false,"ticks":false,"labelPadding":1.5,"labelFontSize":6,"labelColor":"#c83232","labelFont":"Liberation Sans","labelFlush":false,"labelOverlap":false,"labelBound":false}},"y":{"field":"v","type":"quantitative","scale":{"domain":[-0.725,1.025],"nice":false,"zero":false},"axis":null}}},
{"data":{"name":"md"},"transform":[{"filter":"datum.s=='DEA'"}],"mark":{"type":"line","color":"#e0d060","strokeWidth":1},"encoding":{"x":{"field":"i","type":"quantitative","scale":{"domain":[-0.3,178.5],"nice":false,"zero":false},"axis":{"values":[11.7,33.6,54.6,70.2,91.2,112.2,131.7,151.8,174.6],"labelExpr":"datum.value<20?'12':datum.value<40?'01':datum.value<60?'02':datum.value<80?'03':datum.value<100?'04':datum.value<120?'05':datum.value<140?'06':datum.value<160?'07':'08'","title":null,"grid":false,"domain":false,"ticks":false,"labelPadding":1.5,"labelFontSize":6,"labelColor":"#c83232","labelFont":"Liberation Sans","labelFlush":false,"labelOverlap":false,"labelBound":false}},"y":{"field":"v","type":"quantitative","scale":{"domain":[-0.725,1.025],"nice":false,"zero":false},"axis":null}}},
{"data":{"name":"box"},"transform":[{"filter":"datum.g=='c1'"}],"mark":{"type":"rect","fill":"#d8c898","cornerRadius":1},"encoding":{"x":{"field":"i","type":"quantitative","scale":{"domain":[-0.3,178.5],"nice":false,"zero":false},"axis":{"values":[11.7,33.6,54.6,70.2,91.2,112.2,131.7,151.8,174.6],"labelExpr":"datum.value<20?'12':datum.value<40?'01':datum.value<60?'02':datum.value<80?'03':datum.value<100?'04':datum.value<120?'05':datum.value<140?'06':datum.value<160?'07':'08'","title":null,"grid":false,"domain":false,"ticks":false,"labelPadding":1.5,"labelFontSize":6,"labelColor":"#c83232","labelFont":"Liberation Sans","labelFlush":false,"labelOverlap":false,"labelBound":false}},"x2":{"field":"i2"},"y":{"field":"p","type":"quantitative","scale":{"domain":[-0.725,1.025],"nice":false,"zero":false},"axis":null},"y2":{"field":"p2"}}},
{"data":{"name":"box"},"transform":[{"filter":"datum.g=='c2'"}],"mark":{"type":"rect","fill":"#9a32c8"},"encoding":{"x":{"field":"i","type":"quantitative","scale":{"domain":[-0.3,178.5],"nice":false,"zero":false},"axis":{"values":[11.7,33.6,54.6,70.2,91.2,112.2,131.7,151.8,174.6],"labelExpr":"datum.value<20?'12':datum.value<40?'01':datum.value<60?'02':datum.value<80?'03':datum.value<100?'04':datum.value<120?'05':datum.value<140?'06':datum.value<160?'07':'08'","title":null,"grid":false,"domain":false,"ticks":false,"labelPadding":1.5,"labelFontSize":6,"labelColor":"#c83232","labelFont":"Liberation Sans","labelFlush":false,"labelOverlap":false,"labelBound":false}},"x2":{"field":"i2"},"y":{"field":"p","type":"quantitative","scale":{"domain":[-0.725,1.025],"nice":false,"zero":false},"axis":null},"y2":{"field":"p2"}}},
{"data":{"name":"lab"},"transform":[{"filter":"datum.g=='c'"}],"mark":{"type":"text","align":"left","baseline":"middle","fontSize":5.2},"encoding":{"x":{"field":"i","type":"quantitative","scale":{"domain":[-0.3,178.5],"nice":false,"zero":false},"axis":{"values":[11.7,33.6,54.6,70.2,91.2,112.2,131.7,151.8,174.6],"labelExpr":"datum.value<20?'12':datum.value<40?'01':datum.value<60?'02':datum.value<80?'03':datum.value<100?'04':datum.value<120?'05':datum.value<140?'06':datum.value<160?'07':'08'","title":null,"grid":false,"domain":false,"ticks":false,"labelPadding":1.5,"labelFontSize":6,"labelColor":"#c83232","labelFont":"Liberation Sans","labelFlush":false,"labelOverlap":false,"labelBound":false}},"y":{"field":"p","type":"quantitative","scale":{"domain":[-0.725,1.025],"nice":false,"zero":false},"axis":null},"text":{"field":"t"},"color":{"field":"s","type":"nominal","legend":null,"scale":{"domain":["gr","nm","MA5","MA10","MA20","MA30","MA60","wh","gn","ye","be","dk","pk","ol"],"range":["#b4b4b4","#e03232","#e6e6e6","#e8d24a","#d25ad2","#3cb43c","#3ca0c8","#e6e6e6","#3cc83c","#e0d060","#d8c890","#1a1a1a","#f4dcf4","#c8c850"]}}}},
{"data":{"name":"lab"},"transform":[{"filter":"datum.g=='d'"}],"mark":{"type":"text","align":"left","baseline":"middle","fontSize":6},"encoding":{"x":{"field":"i","type":"quantitative","scale":{"domain":[-0.3,178.5],"nice":false,"zero":false},"axis":{"values":[11.7,33.6,54.6,70.2,91.2,112.2,131.7,151.8,174.6],"labelExpr":"datum.value<20?'12':datum.value<40?'01':datum.value<60?'02':datum.value<80?'03':datum.value<100?'04':datum.value<120?'05':datum.value<140?'06':datum.value<160?'07':'08'","title":null,"grid":false,"domain":false,"ticks":false,"labelPadding":1.5,"labelFontSize":6,"labelColor":"#c83232","labelFont":"Liberation Sans","labelFlush":false,"labelOverlap":false,"labelBound":false}},"y":{"field":"p","type":"quantitative","scale":{"domain":[-0.725,1.025],"nice":false,"zero":false},"axis":null},"text":{"field":"t"},"color":{"field":"s","type":"nominal","legend":null,"scale":{"domain":["gr","nm","MA5","MA10","MA20","MA30","MA60","wh","gn","ye","be","dk","pk","ol"],"range":["#b4b4b4","#e03232","#e6e6e6","#e8d24a","#d25ad2","#3cb43c","#3ca0c8","#e6e6e6","#3cc83c","#e0d060","#d8c890","#1a1a1a","#f4dcf4","#c8c850"]}}}}
]}
]
}
